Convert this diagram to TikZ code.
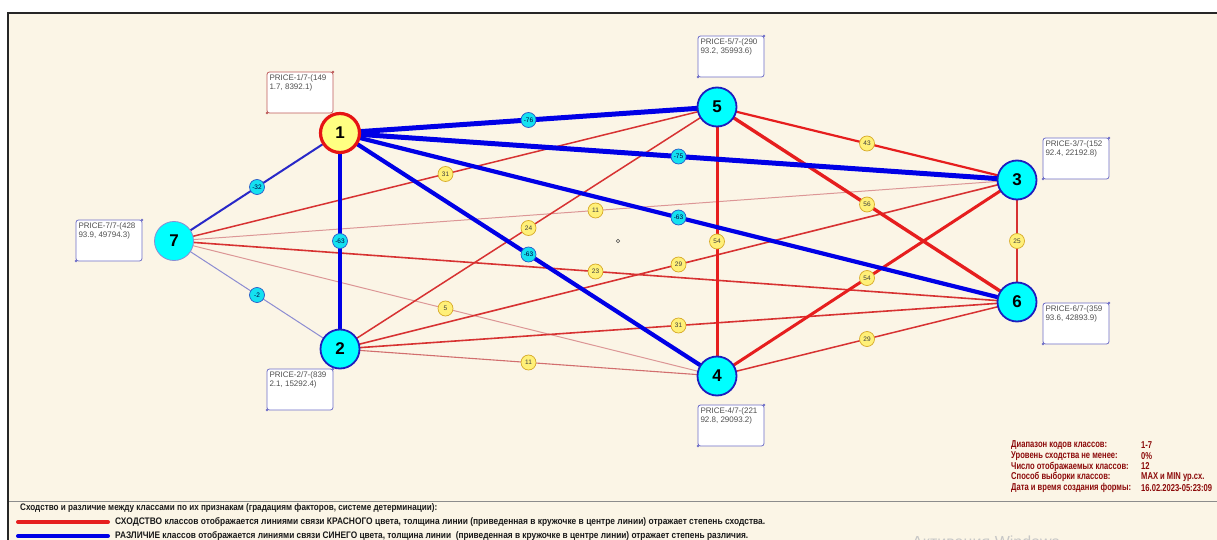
\documentclass[tikz,border=0pt]{standalone}
\usepackage{fontspec}
\usepackage{graphicx}
\setmainfont{Liberation Sans}
\newfontfamily\narrowfont[FakeStretch=0.76]{Liberation Sans}

\definecolor{paper}{RGB}{251,245,230}
\definecolor{linkblue}{RGB}{0,0,230}
\definecolor{bluemid}{RGB}{40,40,200}
\definecolor{bluefaint}{RGB}{140,140,210}
\definecolor{linkred}{RGB}{230,30,30}
\definecolor{redmid}{RGB}{215,50,50}
\definecolor{redpale}{RGB}{210,110,110}
\definecolor{redfaint}{RGB}{220,150,150}
\definecolor{nodecyan}{RGB}{0,255,255}
\definecolor{nodeedge}{RGB}{30,30,190}
\definecolor{mainfill}{RGB}{255,255,130}
\definecolor{mainring}{RGB}{230,20,20}
\definecolor{valcyan}{RGB}{20,225,240}
\definecolor{valcyanring}{RGB}{40,90,200}
\definecolor{valyellow}{RGB}{255,240,120}
\definecolor{valring}{RGB}{215,170,40}
\definecolor{infored}{RGB}{140,10,10}
\definecolor{boxblue}{RGB}{110,110,200}
\definecolor{boxred}{RGB}{190,90,90}
\definecolor{textgray}{RGB}{80,80,80}
\definecolor{legendtext}{RGB}{25,25,25}

\tikzset{
  cls/.style={circle, minimum size=39pt, inner sep=0pt, fill=nodecyan,
    draw=nodeedge, line width=1.8pt, text=black,
    font=\bfseries\fontsize{17}{17}\selectfont},
  clsmain/.style={cls, fill=mainfill, draw=mainring, line width=3.2pt},
  clslight/.style={cls, draw=bluefaint, line width=0.8pt},
  valbase/.style={circle, minimum size=15pt, inner sep=0pt, line width=0.7pt,
    font=\fontsize{6.5}{6.5}\selectfont},
  simval/.style={valbase, fill=valyellow, draw=valring, text=black!75},
  difval/.style={valbase, fill=valcyan, draw=valcyanring, text=black!75!blue},
  pframe/.style={fill=white, line width=0.8pt, rounded corners=2.5pt},
  ptext/.style={inner sep=0pt, align=left, text=textgray,
    font=\fontsize{8}{7.3}\selectfont},
  infotext/.style={anchor=west, inner sep=0pt, text=infored,
    font=\narrowfont\bfseries\fontsize{10}{10}\selectfont},
  legtext/.style={anchor=west, inner sep=0pt, text=legendtext,
    font=\bfseries\fontsize{9.5}{9.5}\selectfont},
  legline/.style={line width=4pt, line cap=round}
}

% label box with the class price range
\newcommand\pricebox[5]{%
  \draw[pframe, draw=#4] (#2,#3) rectangle ++(66,41);
  \fill[#4] (#2+66,#3) circle (1.4);
  \fill[#4] (#2,#3+41) circle (1.4);
  \node[ptext, anchor=north west] (#1) at (#2+2.3,#3+2.6) {#5};
}

\begin{document}
\begin{tikzpicture}[x=1pt,y=-1pt]
\useasboundingbox (0,0) rectangle (1217,540);
\fill[white] (0,0) rectangle (1217,540);
\fill[paper] (8,13) rectangle (1217,540);
\draw[black!85, line width=2pt] (8,541) -- (8,13) -- (1218,13);
\draw[black!45, line width=1pt] (9,501) -- (1217,501);

% class positions
\coordinate (p1) at (340,133);
\coordinate (p2) at (340,349);
\coordinate (p3) at (1017,180);
\coordinate (p4) at (717,376);
\coordinate (p5) at (717,107);
\coordinate (p6) at (1017,302);
\coordinate (p7) at (174,241);

% links: blue = difference, red = similarity
\foreach \a/\b/\w/\c in {
  7/3/1.0/redfaint, 7/4/1.0/redfaint, 2/4/1.1/redpale,
  7/5/1.5/redmid, 7/6/1.6/redmid, 2/5/1.5/redmid, 2/3/1.6/redmid,
  2/6/1.6/redmid, 3/6/1.5/redmid, 4/6/1.5/redmid,
  5/3/2.2/linkred, 5/6/3.4/linkred, 5/4/3.0/linkred, 4/3/3.0/linkred,
  7/2/1.0/bluefaint, 1/7/2.0/bluemid,
  1/2/4.2/linkblue, 1/4/4.2/linkblue, 1/6/4.2/linkblue,
  1/3/5.0/linkblue, 1/5/5.0/linkblue}
  \draw[line width=\w pt, draw=\c] (p\a) -- (p\b);

% link values at the middle of each link
\foreach \a/\b/\v in {1/5/-76, 1/3/-75, 1/6/-63, 1/4/-63, 1/2/-63, 1/7/-32, 7/2/-2}
  \path (p\a) -- node[difval] (v\a\b) {\v} (p\b);
\foreach \a/\b/\v in {5/3/43, 5/6/56, 5/4/54, 4/3/54, 3/6/25, 4/6/29, 7/5/31,
  7/3/11, 7/6/23, 7/4/5, 2/5/24, 2/3/29, 2/6/31, 2/4/11}
  \path (p\a) -- node[simval] (v\a\b) {\v} (p\b);

\node[circle, draw=black!70, line width=0.6pt, minimum size=3.6pt, inner sep=0pt] (pivot) at (618,241) {};

% classes
\node[clsmain] (n1) at (p1) {1};
\node[cls] (n2) at (p2) {2};
\node[cls] (n3) at (p3) {3};
\node[cls] (n4) at (p4) {4};
\node[cls] (n5) at (p5) {5};
\node[cls] (n6) at (p6) {6};
\node[clslight] (n7) at (p7) {7};

% price ranges
\pricebox{b1}{267}{72}{boxred}{PRICE-1/7-(149\\1.7, 8392.1)}
\pricebox{b5}{698}{36}{boxblue}{PRICE-5/7-(290\\93.2, 35993.6)}
\pricebox{b3}{1043}{138}{boxblue}{PRICE-3/7-(152\\92.4, 22192.8)}
\pricebox{b7}{76}{220}{boxblue}{PRICE-7/7-(428\\93.9, 49794.3)}
\pricebox{b2}{267}{369}{boxblue}{PRICE-2/7-(839\\2.1, 15292.4)}
\pricebox{b4}{698}{405}{boxblue}{PRICE-4/7-(221\\92.8, 29093.2)}
\pricebox{b6}{1043}{303}{boxblue}{PRICE-6/7-(359\\93.6, 42893.9)}

% form parameters
\node[infotext] (i1) at (1011,445) {Диапазон кодов классов:};
\node[infotext] (i2) at (1011,455.8) {Уровень сходства не менее:};
\node[infotext] (i3) at (1011,466.5) {Число отображаемых классов:};
\node[infotext] (i4) at (1011,477.2) {Способ выборки классов:};
\node[infotext] (i5) at (1011,488) {Дата и время создания формы:};
\node[infotext] (j1) at (1141,445) {1-7};
\node[infotext] (j2) at (1141,455.8) {0\%};
\node[infotext] (j3) at (1141,466.5) {12};
\node[infotext] (j4) at (1141,477.2) {MAX и MIN ур.сх.};
\node[infotext] (j5) at (1141,488) {16.02.2023-05:23:09};

% legend
\node[legtext] (lt) at (20,508) {\resizebox{417pt}{\height}{Сходство и различие между классами по их признакам (градациям факторов, системе детерминации):}};
\coordinate (lr0) at (18,522);
\coordinate (lr1) at (108,522);
\coordinate (lb0) at (18,536);
\coordinate (lb1) at (108,536);
\draw[legline, draw=linkred] (lr0) -- (lr1);
\draw[legline, draw=linkblue] (lb0) -- (lb1);
\node[legtext] (ls) at (115,522) {\resizebox{650pt}{\height}{СХОДСТВО классов отображается линиями связи КРАСНОГО цвета, толщина линии (приведенная в кружочке в центре линии) отражает степень сходства.}};
\node[legtext] (ld) at (115,536) {\resizebox{633pt}{\height}{РАЗЛИЧИЕ классов отображается линиями связи СИНЕГО цвета, толщина линии\ \ (приведенная в кружочке в центре линии) отражает степень различия.}};

\node[anchor=base west, inner sep=0pt, text=black!22, font=\fontsize{16}{16}\selectfont] (wm) at (912,547) {Активация Windows};
\end{tikzpicture}
\end{document}
